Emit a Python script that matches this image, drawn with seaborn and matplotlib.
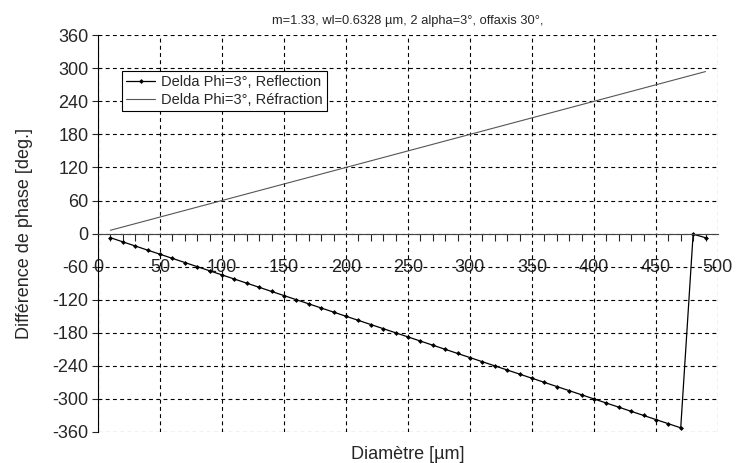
import pandas as pd
import matplotlib
matplotlib.use("Agg")
import matplotlib.pyplot as plt
from matplotlib.ticker import MultipleLocator
import seaborn as sns

# Data
diametre = [10, 20, 30, 40, 50, 60, 70, 80, 90, 100,
            110, 120, 130, 140, 150, 160, 170, 180, 190, 200,
            210, 220, 230, 240, 250, 260, 270, 280, 290, 300,
            310, 320, 330, 340, 350, 360, 370, 380, 390, 400,
            410, 420, 430, 440, 450, 460, 470, 480, 490]
reflection = [-7.5, -15, -22.5, -30, -37.5, -45, -52.5, -60, -67.5, -75,
              -82.5, -90, -97.5, -105, -112.5, -120, -127.5, -135, -142.5, -150,
              -157.5, -165, -172.5, -180, -187.5, -195, -202.5, -210, -217.5, -225,
              -232.5, -240, -247.5, -255, -262.5, -270, -277.5, -285, -292.5, -300,
              -307.5, -315, -322.5, -330, -337.5, -345, -352.5, -1, -7.5]
refraction = [6, 12, 18, 24, 30, 36, 42, 48, 54, 60,
              66, 72, 78, 84, 90, 96, 102, 108, 114, 120,
              126, 132, 138, 144, 150, 156, 162, 168, 174, 180,
              186, 192, 198, 204, 210, 216, 222, 228, 234, 240,
              246, 252, 258, 264, 270, 276, 282, 288, 294]

df = pd.DataFrame({"Diametre": diametre, "Reflection": reflection, "Refraction": refraction})

sns.set_style("ticks")
plt.rcParams["font.family"] = ["Liberation Sans", "DejaVu Sans"]
plt.rcParams["axes.unicode_minus"] = False

fig = plt.figure(figsize=(7.38, 4.63), dpi=100)
ax = fig.add_axes([0.1328, 0.067, 0.840, 0.857])

sns.lineplot(data=df, x="Diametre", y="Reflection", ax=ax, color="black",
             linewidth=0.9, marker="D", markersize=2.5, markeredgewidth=0,
             label="Delda Phi=3°, Reflection")
sns.lineplot(data=df, x="Diametre", y="Refraction", ax=ax, color="#555555",
             linewidth=0.8, label="Delda Phi=3°, Réfraction")

ax.set_xlim(0, 500)
ax.set_ylim(-360, 360)
ax.xaxis.set_major_locator(MultipleLocator(50))
ax.xaxis.set_minor_locator(MultipleLocator(10))
ax.yaxis.set_major_locator(MultipleLocator(60))

ax.grid(True, which="major", color="black", linestyle=(0, (3.5, 3)), linewidth=0.8)
ax.spines["bottom"].set_position(("data", 0))
ax.spines["bottom"].set_color("#444444")
ax.spines["left"].set_color("black")
ax.spines["top"].set_visible(False)
ax.spines["right"].set_visible(False)
ax.set_axisbelow(True)

ax.tick_params(axis="x", which="major", direction="out", length=0, pad=18,
               labelsize=13)
ax.tick_params(axis="x", which="minor", direction="out", length=5, width=0.8)
ax.tick_params(axis="y", direction="out", length=4, labelsize=13, pad=3)

ax.set_xlabel("Diamètre [µm]", fontsize=13)
ax.set_ylabel("Différence de phase [deg.]", fontsize=13)
ax.xaxis.set_label_coords(0.5, -0.035)
ax.yaxis.set_label_coords(-0.105, 0.5)
ax.set_title("m=1.33, wl=0.6328 µm, 2 alpha=3°, offaxis 30°,", fontsize=9.3, pad=8)

leg = ax.legend(loc="upper left", bbox_to_anchor=(0.038, 0.91), fontsize=10.5,
                frameon=True, fancybox=False, framealpha=1, edgecolor="black",
                handlelength=2.0, handletextpad=0.4, borderpad=0.3,
                labelspacing=0.25, borderaxespad=0)
leg.get_frame().set_linewidth(0.8)

fig.savefig("out.png", dpi=100)
